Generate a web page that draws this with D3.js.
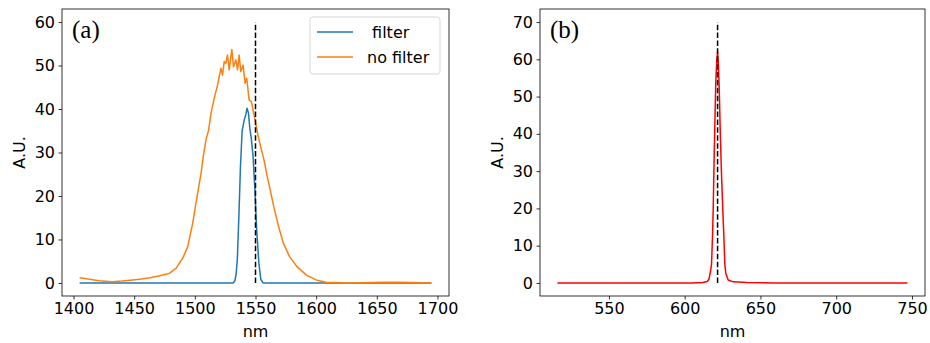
<!DOCTYPE html>
<html>
<head>
<meta charset="utf-8">
<script src="https://cdn.jsdelivr.net/npm/d3@7"></script>
<style>
  body { margin: 0; background: #fff; }
  svg text { font-family: "DejaVu Sans", sans-serif; }
</style>
</head>
<body>
<div id="chart"></div>
<script>
// --- DATA ---
// Panel (a): filter / no filter spectra
const filterNm = [1405, 1450, 1500, 1531.6, 1533, 1534, 1535, 1536.3, 1537.6, 1539, 1540.7, 1542, 1543, 1544.2, 1545.3, 1546.5, 1548, 1549.5, 1550.8, 1552.8, 1554.4, 1556.3, 1600, 1650, 1695];
const filterAU = [0, 0, 0, 0, 0.5, 2, 5.3, 15.3, 26.8, 35, 37.5, 38.7, 40.2, 39.1, 35.6, 33.3, 29.1, 21.4, 13, 4.5, 0.8, 0, 0, 0, 0];

const noFilterNm = [1405, 1412, 1421, 1432, 1440, 1449, 1456, 1463, 1470, 1476, 1479, 1484.6, 1490, 1494.1, 1498.2, 1502.3, 1505.1, 1507.3, 1509.2, 1511.4, 1513.3, 1516, 1518.7, 1521.5, 1522.8, 1524.2, 1525.5, 1526.9, 1528.3, 1530.5, 1531.9, 1533.8, 1535.2, 1536.5, 1537.9, 1539.8, 1541.4, 1542.8, 1544.7, 1546.6, 1549.6, 1552.3, 1554.3, 1557, 1559.7, 1562, 1565, 1569, 1573, 1578, 1584, 1592, 1600, 1608, 1628, 1655, 1669, 1680, 1695];
const noFilterAU = [1.2, 0.9, 0.5, 0.3, 0.45, 0.7, 0.9, 1.2, 1.6, 2.0, 2.2, 3.4, 5.7, 8.3, 13.7, 20.6, 25.2, 29.8, 32.9, 35.2, 39, 42.5, 45.5, 49.4, 47.8, 50.9, 50.5, 52.4, 49, 53.7, 49.7, 51.3, 49, 52.4, 48.6, 50.1, 45.9, 47.1, 42.1, 41.7, 37.5, 33.6, 31.3, 28.3, 24.4, 21.5, 17.6, 13, 9.1, 6.1, 3.8, 1.8, 0.7, 0.15, 0, 0.15, 0.15, 0.1, 0];

const markerA = 1550;
const legendLabels = [" filter", "no filter"];

// Panel (b): red spectrum
const redNm = [516, 550, 580, 605, 612, 614.8, 616, 617, 617.7, 618.4, 618.8, 619.5, 620.5, 621.2, 621.7, 622.3, 622.8, 623.5, 624.3, 625.3, 625.8, 626.5, 627.1, 628.7, 632, 641, 660, 700, 747];
const redAU = [0, 0, 0, 0, 0.1, 0.4, 1, 3, 5, 13, 19.6, 35, 53.5, 60, 62, 58, 52, 40, 29, 18, 13, 5, 2.6, 0.8, 0.3, 0.1, 0, 0, 0];

const markerB = 621.7;

// Tick labels
const aXTicks = [1400, 1450, 1500, 1550, 1600, 1650, 1700];
const aYTicks = [0, 10, 20, 30, 40, 50, 60];
const bXTicks = [550, 600, 650, 700, 750];
const bYTicks = [0, 10, 20, 30, 40, 50, 60, 70];

// --- LAYOUT ---
const W = 930, H = 343;
const svg = d3.select("#chart").append("svg").attr("width", W).attr("height", H);

function drawPanel(opts) {
    const { left, right, top, bottom } = opts;
    const x = d3.scaleLinear().domain(opts.xDomain).range([left, right]);
    const y = d3.scaleLinear().domain(opts.yDomain).range([bottom, top]);
    const g = svg.append("g");

    // Axes
    const xAxis = g.append("g").attr("transform", `translate(0,${bottom})`)
        .call(d3.axisBottom(x).tickValues(opts.xTicks).tickFormat(d3.format("d")).tickSize(3.5).tickPadding(3.5));
    const yAxis = g.append("g").attr("transform", `translate(${left},0)`)
        .call(d3.axisLeft(y).tickValues(opts.yTicks).tickFormat(d3.format("d")).tickSize(3.5).tickPadding(3.5));
    [xAxis, yAxis].forEach(a => {
        a.select(".domain").remove();
        a.selectAll("line").attr("stroke", "#000").attr("stroke-width", 0.8);
        a.selectAll("text").attr("fill", "#000").style("font-size", "16px").style("font-family", "DejaVu Sans");
    });

    // Series
    const line = d3.line().x(d => x(d[0])).y(d => y(d[1]));
    opts.series.forEach(s => {
        g.append("path").datum(d3.zip(s.xs, s.ys))
            .attr("fill", "none").attr("stroke", s.color).attr("stroke-width", 1.5)
            .attr("stroke-linejoin", "round").attr("d", line);
    });

    // Dashed marker
    g.append("line")
        .attr("x1", x(opts.marker)).attr("x2", x(opts.marker))
        .attr("y1", y(0)).attr("y2", y(opts.markerTop))
        .attr("stroke", "#000").attr("stroke-width", 1.5).attr("stroke-dasharray", "5.5,2.4");

    // Frame
    g.append("rect").attr("x", left).attr("y", top).attr("width", right - left).attr("height", bottom - top)
        .attr("fill", "none").attr("stroke", "#000").attr("stroke-width", 0.8);

    // Labels
    g.append("text").attr("x", (left + right) / 2).attr("y", 337).attr("text-anchor", "middle")
        .style("font-size", "16px").text("nm");
    g.append("text").attr("transform", `translate(${opts.ylabelX},${(top + bottom) / 2}) rotate(-90)`)
        .attr("text-anchor", "middle").style("font-size", "16px").text("A.U.");
    g.append("text").attr("x", left + 10).attr("y", 38)
        .style("font-family", "Liberation Serif, serif").style("font-size", "25px").text(opts.tag);

    return { g, x, y };
}

const pa = drawPanel({
    left: 62, right: 449, top: 9, bottom: 296,
    xDomain: [1390.5, 1709.5], yDomain: [-3, 63],
    xTicks: aXTicks, yTicks: aYTicks,
    series: [
        { xs: filterNm, ys: filterAU, color: "#1f77b4" },
        { xs: noFilterNm, ys: noFilterAU, color: "#ff7f0e" }
    ],
    marker: markerA, markerTop: 60, ylabelX: 25, tag: "(a)"
});

// Legend for panel (a)
const legend = pa.g.append("g");
legend.append("rect").attr("x", 310).attr("y", 17).attr("width", 130).attr("height", 57).attr("rx", 3)
    .attr("fill", "#fff").attr("fill-opacity", 0.8).attr("stroke", "#d6d6d6").attr("stroke-width", 1);
[["#1f77b4", 0], ["#ff7f0e", 1]].forEach(([c, i]) => {
    const ly = 32 + i * 25;
    legend.append("line").attr("x1", 317).attr("x2", 353).attr("y1", ly).attr("y2", ly)
        .attr("stroke", c).attr("stroke-width", 1.5);
    legend.append("text").attr("x", 367).attr("y", ly + 6).style("font-size", "16px")
        .style("white-space", "pre").text(legendLabels[i]);
});

drawPanel({
    left: 540, right: 925, top: 9, bottom: 296,
    xDomain: [504.5, 758.6], yDomain: [-3.5, 73.5],
    xTicks: bXTicks, yTicks: bYTicks,
    series: [{ xs: redNm, ys: redAU, color: "#ff0000" }],
    marker: markerB, markerTop: 70, ylabelX: 503, tag: "(b)"
});
</script>
</body>
</html>
